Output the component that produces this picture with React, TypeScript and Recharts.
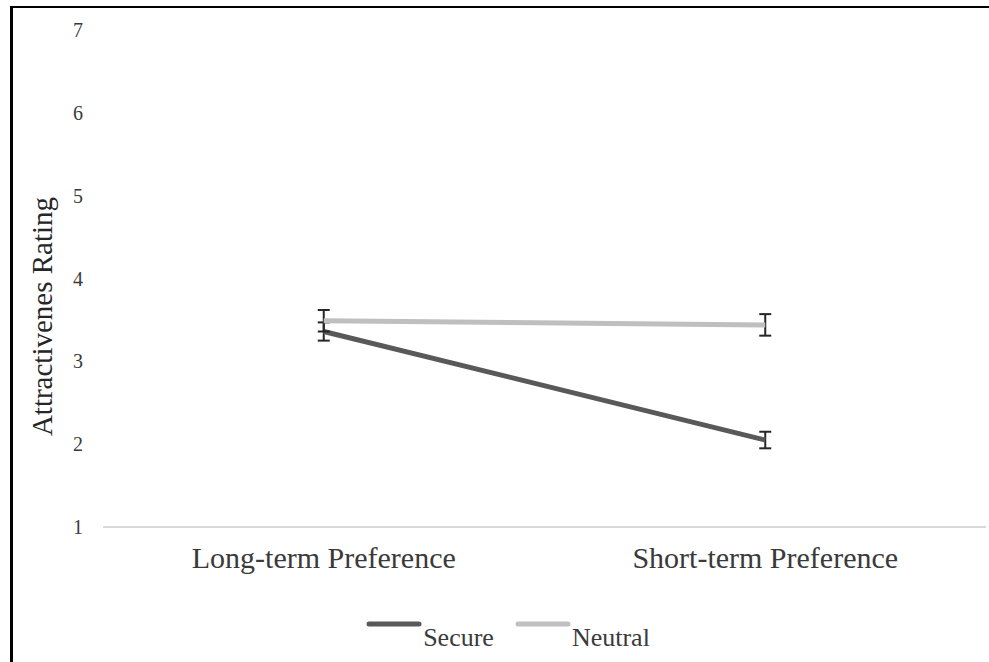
import React from "react";
import {
  LineChart,
  Line,
  XAxis,
  YAxis,
  ErrorBar,
  Legend,
} from "recharts";

// values
const categories = ["Long-term Preference", "Short-term Preference"];
const seriesNames = ["Secure", "Neutral"];
const secure = [3.36, 2.05];
const secureErr = [0.11, 0.1];
const neutral = [3.49, 3.44];
const neutralErr = [0.13, 0.13];
const yTicks = [1, 2, 3, 4, 5, 6, 7];

const chartData = categories.map((c, i) => ({
  name: c,
  Secure: secure[i],
  secureErr: secureErr[i],
  Neutral: neutral[i],
  neutralErr: neutralErr[i],
}));

const FONT = '"Liberation Serif", "Times New Roman", serif';
const TEXT = "#3a3a3a";

function LegendContent(props: any) {
  const payload = [...(props.payload || [])].sort(
    (a: any, b: any) => seriesNames.indexOf(a.value) - seriesNames.indexOf(b.value)
  );
  return (
    <div style={{ display: "flex", justifyContent: "center", paddingLeft: 48 }}>
      {payload.map((p: any) => (
        <div key={p.value} style={{ display: "flex", alignItems: "flex-start", marginRight: 21 }}>
          <svg width={56} height={14} style={{ marginTop: 14 }}>
            <line x1={3} y1={7} x2={53} y2={7} stroke={p.color} strokeWidth={5} strokeLinecap="round" />
          </svg>
          <span style={{ fontFamily: FONT, fontSize: 26, color: TEXT, marginTop: 20, marginLeft: 1 }}>
            {p.value}
          </span>
        </div>
      ))}
    </div>
  );
}

export default function App() {
  return (
    <div style={{ position: "absolute", left: 0, top: 0, width: 989, height: 662, background: "#fff", overflow: "hidden" }}>
      <LineChart
        width={989}
        height={662}
        data={chartData}
        margin={{ top: 30, right: 3, bottom: 0, left: 0 }}
      >
        <XAxis
          dataKey="name"
          scale="band"
          height={135}
          axisLine={{ stroke: "#d9d9d9", strokeWidth: 2 }}
          tickLine={false}
          tickMargin={14}
          tick={{ fontSize: 30, fill: TEXT, fontFamily: FONT }}
        />
        <YAxis
          width={103}
          domain={[1, 7]}
          ticks={yTicks}
          axisLine={false}
          tickLine={false}
          tickMargin={14}
          tick={{ fontSize: 20, fill: TEXT, fontFamily: FONT }}
          label={{
            value: "Attractivenes Rating",
            angle: -90,
            position: "center",
            dx: -10,
            dy: 38,
            style: { fontSize: 29, fill: "#262626", fontFamily: FONT, textAnchor: "middle" },
          }}
        />
        <Legend
          layout="horizontal"
          verticalAlign="middle"
          content={<LegendContent />}
          wrapperStyle={{ position: "absolute", top: 603, left: 0, width: 989 }}
        />
        <Line
          dataKey="Secure"
          stroke="#595959"
          strokeWidth={5}
          dot={false}
          activeDot={false}
          isAnimationActive={false}
        >
          <ErrorBar dataKey="secureErr" direction="y" width={6} strokeWidth={2} stroke="#262626" />
        </Line>
        <Line
          dataKey="Neutral"
          stroke="#bfbfbf"
          strokeWidth={5}
          dot={false}
          activeDot={false}
          isAnimationActive={false}
        >
          <ErrorBar dataKey="neutralErr" direction="y" width={6} strokeWidth={2} stroke="#262626" />
        </Line>
      </LineChart>
      <div
        style={{
          position: "absolute",
          left: 10,
          top: 6,
          width: 989,
          height: 662,
          borderLeft: "3px solid #000",
          borderTop: "2px solid #000",
          pointerEvents: "none",
        }}
      />
    </div>
  );
}
